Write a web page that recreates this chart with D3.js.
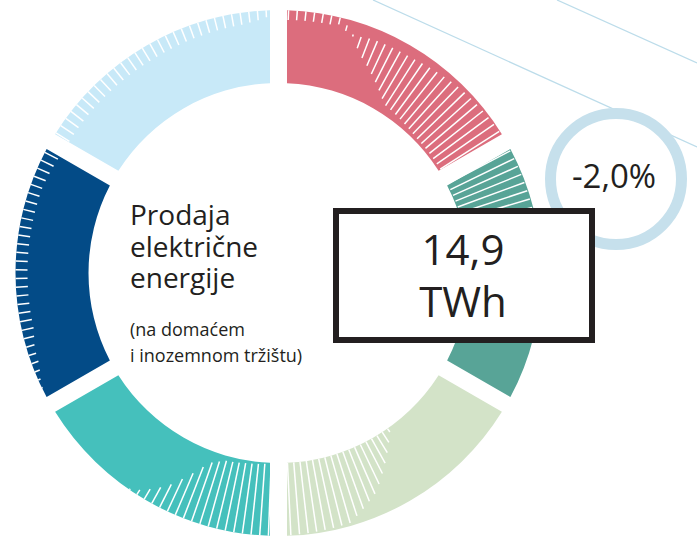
<!DOCTYPE html>
<html>
<head>
<meta charset="utf-8">
<title>Prodaja električne energije</title>
<script src="https://d3js.org/d3.v7.min.js"></script>
<style>
  body { margin: 0; background: #fff; }
  text { font-family: "Open Sans", sans-serif; fill: #231f20; }
</style>
</head>
<body>
<svg id="chart" width="697" height="540"></svg>
<script>
// ring segments, clockwise from the top
var segments = ["s1", "s2", "s3", "s4", "s5", "s6"]
var shares = [1, 1, 1, 1, 1, 1]
var colors = ["#dc6d7d", "#58a497", "#d3e3c8", "#45c0bc", "#034b87", "#c8e9f8"]

var titleLines = ["Prodaja", "električne", "energije"]
var noteLines = ["(na domaćem", "i inozemnom tržištu)"]
var totalLines = ["14,9", "TWh"]
var changeLabel = "-2,0%"

// white hatch inside every segment: depth (px from outer edge) of both ends,
// given at a few angles (degrees from the segment start)
var hatch = [
  {at: [0, 12, 13.5, 15.4, 17.1, 18.7, 20.4, 22.5, 32, 45, 60],
   outer: [0, 0, 0, 5.6, 13, 13.5, 11.8, 11, 10, 4, 0],
   inner: [10, 9, 7, 11.6, 13.5, 22, 30, 36, 64, 70, 71]},
  {at: [0, 28, 28.1, 60], outer: [1, 1, 0, 0], inner: [72, 72, 0, 0]},
  {at: [0, 24, 30, 36, 44, 60], outer: [73, 73, 48, 23, 3, 0], inner: [73, 73, 73, 73, 73, 73]},
  {at: [0, 16, 20, 27.5, 32, 35, 60], outer: [0, 0, 0, 0, 0, 0, 0], inner: [73, 68, 61, 23, 7, 0, 0]},
  {at: [0, 5, 9, 13, 17, 50, 58, 60], outer: [0, 0, 0, 0, 0, 0, 0, 0], inner: [0, 1, 7, 8, 12, 12, 15, 15]},
  {at: [0, 30, 52, 56, 58, 60], outer: [0, 0, 0, 0, 0, 0], inner: [16, 15, 12, 9, 6, 5]}
]

var svg = d3.select("#chart")
var cx = 278.5, cy = 273
var R = 263, r0 = 190

//thin guide lines in the corner
var guides = [[373, 0, 697, 147], [557, 0, 697, 63]]
svg.selectAll("line.guide")
  .data(guides)
  .enter()
  .append("line")
    .attr("class", "guide")
    .attr("x1", d => d[0]).attr("y1", d => d[1])
    .attr("x2", d => d[2]).attr("y2", d => d[3])
    .attr("stroke", "#bcdcea").attr("stroke-width", 1.3)

var ring = svg.append("g").attr("transform", "translate(" + cx + "," + cy + ")")

var pie = d3.pie().sort(null).padAngle(17 / R)
var arc = d3.arc().innerRadius(r0).outerRadius(R).padRadius(R)
var arcs = pie(shares)

ring.selectAll("path")
  .data(arcs)
  .enter()
  .append("path")
    .attr("d", arc)
    .attr("fill", (d, i) => colors[i])

// build the hatch lines from the arcs
var ticks = []
arcs.forEach(function(d, i) {
  var h = hatch[i]
  var outerD = d3.scaleLinear().domain(h.at).range(h.outer).clamp(true)
  var innerD = d3.scaleLinear().domain(h.at).range(h.inner).clamp(true)
  var span = (d.endAngle - d.startAngle) * 180 / Math.PI
  for (var a = 2.2; a <= span - 1.8; a += 1.9) {
    var a1 = outerD(a), a0 = innerD(a)
    if (a0 - a1 < 0.6) continue
    ticks.push({angle: d.startAngle + a * Math.PI / 180, rOut: R - a1, rIn: R - a0})
  }
})

ring.selectAll("line.tick")
  .data(ticks)
  .enter()
  .append("line")
    .attr("class", "tick")
    .attr("x1", d => d.rIn * Math.sin(d.angle))
    .attr("y1", d => -d.rIn * Math.cos(d.angle))
    .attr("x2", d => d.rOut * Math.sin(d.angle))
    .attr("y2", d => -d.rOut * Math.cos(d.angle))
    .attr("stroke", "#fff")
    .attr("stroke-width", 1.5)

// change badge
svg.append("circle")
  .attr("cx", 616).attr("cy", 179).attr("r", 65.5)
  .attr("fill", "#fff")
  .attr("stroke", "#c6e0ec").attr("stroke-width", 11)
svg.append("text")
  .attr("x", 614).attr("y", 188)
  .attr("text-anchor", "middle")
  .style("font-size", "33px")
  .text(changeLabel)

// title in the middle of the ring
svg.selectAll("text.title")
  .data(titleLines)
  .enter()
  .append("text")
    .attr("class", "title")
    .attr("x", 130)
    .attr("y", (d, i) => 225 + i * 31.5)
    .style("font-size", "28px")
    .text(d => d)

svg.selectAll("text.note")
  .data(noteLines)
  .enter()
  .append("text")
    .attr("class", "note")
    .attr("x", 130)
    .attr("y", (d, i) => 336 + i * 26)
    .style("font-size", "18px")
    .text(d => d)

// total box
svg.append("rect")
  .attr("x", 336).attr("y", 211)
  .attr("width", 256).attr("height", 129)
  .attr("fill", "#fff")
  .attr("stroke", "#231f20").attr("stroke-width", 6)

svg.selectAll("text.total")
  .data(totalLines)
  .enter()
  .append("text")
    .attr("class", "total")
    .attr("x", 463)
    .attr("y", (d, i) => 265 + i * 51.5)
    .attr("text-anchor", "middle")
    .style("font-size", "42px")
    .text(d => d)
</script>
</body>
</html>
